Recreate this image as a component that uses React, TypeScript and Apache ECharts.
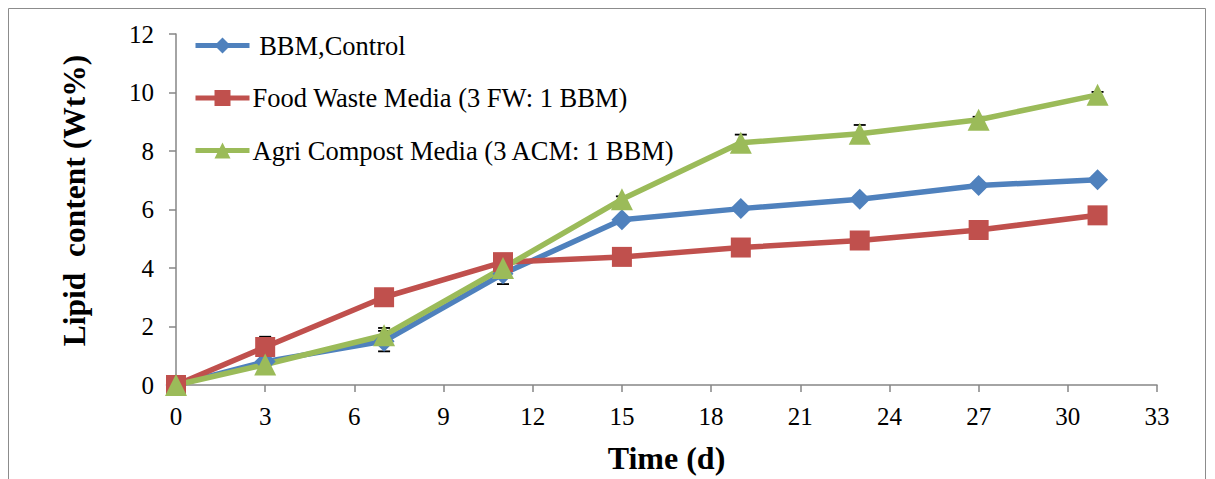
import React, { useEffect, useRef } from "react";
import * as echarts from "echarts";

// Sampling days
const days = [0, 3, 7, 11, 15, 19, 23, 27, 31];

// Lipid content (Wt%) per medium
const bbmControl = [0, 0.8, 1.5, 3.8, 5.65, 6.03, 6.35, 6.82, 7.02];
const foodWaste = [0, 1.3, 3.0, 4.2, 4.38, 4.7, 4.94, 5.3, 5.8];
const agriCompost = [0, 0.7, 1.7, 4.0, 6.35, 8.28, 8.59, 9.07, 9.92];

// Standard deviations (error bars)
const bbmErr = [0, 0.1, 0.35, 0.35, 0.1, 0.1, 0.1, 0.1, 0.1];
const fwErr = [0, 0.35, 0.1, 0.1, 0.1, 0.1, 0.1, 0.25, 0.1];
const acmErr = [0, 0.1, 0.25, 0.1, 0.1, 0.28, 0.3, 0.1, 0.1];

const seriesNames = [
  " BBM,Control",
  "Food Waste Media (3 FW: 1 BBM)",
  "Agri Compost Media (3 ACM: 1 BBM)",
];

const FONT = "Liberation Serif";
const AXIS_GREY = "#868686";

function errorSeries(values: number[], errs: number[]) {
  return {
    type: "custom",
    coordinateSystem: "cartesian2d",
    z: 1,
    silent: true,
    data: days.map((d, i) => [d, values[i], errs[i]]),
    renderItem: (params: any, api: any) => {
      const x = api.value(0);
      const y = api.value(1);
      const e = api.value(2);
      const lo = api.coord([x, y - e]);
      const hi = api.coord([x, y + e]);
      const cap = 6;
      const style = { stroke: "#000", lineWidth: 1.8 };
      return {
        type: "group",
        children: [
          { type: "line", shape: { x1: lo[0], y1: lo[1], x2: hi[0], y2: hi[1] }, style },
          { type: "line", shape: { x1: lo[0] - cap, y1: lo[1], x2: lo[0] + cap, y2: lo[1] }, style },
          { type: "line", shape: { x1: hi[0] - cap, y1: hi[1], x2: hi[0] + cap, y2: hi[1] }, style },
        ],
      };
    },
  };
}

function lineSeries(name: string, values: number[], color: string, symbol: string, size: number) {
  return {
    name,
    type: "line",
    z: 2,
    data: days.map((d, i) => [d, values[i]]),
    symbol,
    symbolSize: size,
    showAllSymbol: true,
    lineStyle: { color, width: 5.5 },
    itemStyle: { color },
  };
}

export default function App() {
  const ref = useRef<HTMLDivElement>(null);

  useEffect(() => {
    if (!ref.current) return;
    const chart = echarts.init(ref.current, null, { renderer: "svg" });
    chart.setOption({
      animation: false,
      backgroundColor: "#fff",
      textStyle: { fontFamily: FONT },
      graphic: [
        {
          type: "rect",
          shape: { x: 0.5, y: 0.5, width: 1197, height: 520 },
          style: { fill: "none", stroke: "#8c8c8c", lineWidth: 1 },
          silent: true,
        },
      ],
      grid: { left: 168, top: 26, width: 981, height: 352 },
      legend: {
        orient: "vertical",
        left: 180,
        top: 19,
        itemWidth: 54,
        itemHeight: 20,
        itemGap: 25.5,
        data: seriesNames,
        lineStyle: { width: 5 },
        textStyle: { fontFamily: FONT, fontSize: 26.5, color: "#000", padding: [0, 0, 0, -2] },
      },
      xAxis: {
        type: "value",
        min: 0,
        max: 33,
        interval: 3,
        name: "Time (d)",
        nameLocation: "middle",
        nameGap: 57,
        nameTextStyle: { fontFamily: FONT, fontSize: 32, fontWeight: "bold", color: "#000", verticalAlign: "top" },
        axisLine: { lineStyle: { color: AXIS_GREY, width: 1.5 } },
        axisTick: { show: true, length: 7, lineStyle: { color: AXIS_GREY, width: 1.5 } },
        axisLabel: { fontFamily: FONT, fontSize: 25, color: "#000", margin: 19 },
        splitLine: { show: false },
      },
      yAxis: {
        type: "value",
        min: 0,
        max: 12,
        interval: 2,
        name: "Lipid  content (Wt%)",
        nameLocation: "middle",
        nameGap: 86,
        nameTextStyle: {
          fontFamily: FONT,
          fontSize: 31.5,
          fontWeight: "bold",
          color: "#000",
          padding: [0, 0, 0, 18],
        },
        axisLine: { show: true, lineStyle: { color: AXIS_GREY, width: 1.5 } },
        axisTick: { show: true, length: 7, lineStyle: { color: AXIS_GREY, width: 1.5 } },
        axisLabel: { fontFamily: FONT, fontSize: 25, color: "#000", margin: 22 },
        splitLine: { show: false },
      },
      series: [
        errorSeries(bbmControl, bbmErr),
        errorSeries(foodWaste, fwErr),
        errorSeries(agriCompost, acmErr),
        lineSeries(seriesNames[0], bbmControl, "#4F81BD", "diamond", 21),
        lineSeries(seriesNames[1], foodWaste, "#C0504D", "rect", 20),
        lineSeries(seriesNames[2], agriCompost, "#9BBB59", "triangle", 22),
      ],
    });
    return () => chart.dispose();
  }, []);

  return <div ref={ref} style={{ width: 1199, height: 471 }} />;
}
